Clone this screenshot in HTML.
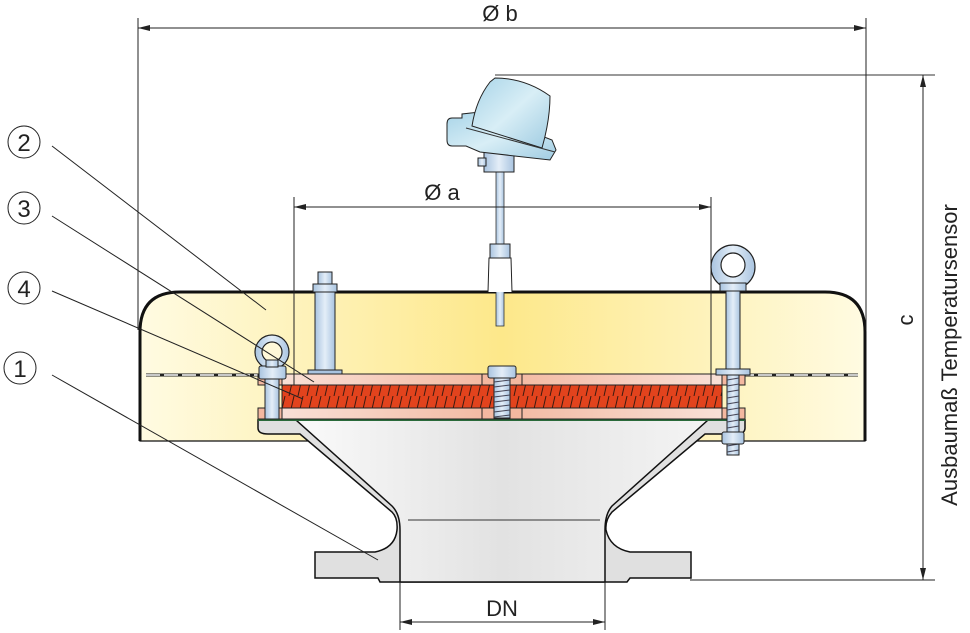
<!DOCTYPE html>
<html><head><meta charset="utf-8"><style>
html,body{margin:0;padding:0;background:#fff;}
svg{display:block;font-family:"Liberation Sans",Arial,sans-serif;}
</style></head><body>
<svg width="970" height="633" viewBox="0 0 970 633" xmlns="http://www.w3.org/2000/svg">
<defs>
<linearGradient id="hood" x1="0" x2="1" y1="0" y2="0">
<stop offset="0" stop-color="#fffbe2"/><stop offset="0.5" stop-color="#fde88a"/><stop offset="1" stop-color="#fffbe2"/>
</linearGradient>
<linearGradient id="cone" x1="0" x2="1">
<stop offset="0" stop-color="#fafafa"/><stop offset="0.5" stop-color="#e2e2e2"/><stop offset="1" stop-color="#f4f4f4"/>
</linearGradient>
<linearGradient id="plate" x1="0" x2="1">
<stop offset="0" stop-color="#f9e4dc"/><stop offset="0.5" stop-color="#f3b8a0"/><stop offset="1" stop-color="#f9e4dc"/>
</linearGradient>
<linearGradient id="steel" x1="0" x2="1">
<stop offset="0" stop-color="#a9c4e0"/><stop offset="0.5" stop-color="#e4eef8"/><stop offset="1" stop-color="#a9c4e0"/>
</linearGradient>
<linearGradient id="head" x1="0" x2="1" y1="0" y2="1">
<stop offset="0" stop-color="#a8d4e8"/><stop offset="0.5" stop-color="#d8eef6"/><stop offset="1" stop-color="#a0cce2"/>
</linearGradient>
<pattern id="hatch" width="9" height="22" patternUnits="userSpaceOnUse">
<rect width="9" height="22" fill="#e2431d"/>
<line x1="1" y1="22" x2="6" y2="0" stroke="#3a1a10" stroke-width="1"/>
</pattern>
</defs>

<!-- hood -->
<path d="M140,441 L140,332 Q140,292 180,292 L825,292 Q865,292 865,332 L865,441 Z" fill="url(#hood)" stroke="#111" stroke-width="1.2"/>
<path d="M140,441 L140,332 Q140,292 180,292 L825,292 Q865,292 865,332 L865,441" fill="none" stroke="#111" stroke-width="3"/>
<!-- dashed -->
<line x1="146" y1="375" x2="858" y2="375" stroke="#222" stroke-width="3"/>
<line x1="146" y1="375" x2="858" y2="375" stroke="#fff" stroke-width="1.5" stroke-dasharray="14 4"/>

<!-- housing -->
<path d="M258,420 L745,420 L745,428 Q745,434 736,434 L705,434 L612,512 Q605,520 606,530 Q610,548 630,552 L691,552 L691,578 L630,578 L627,582 L380,582 L378,578 L315,578 L315,552 L375,552 Q395,548 397,530 Q398,518 392,512 L300,434 L268,434 Q258,434 258,428 Z" fill="#e0e0e0" stroke="#111" stroke-width="1.5"/>
<path d="M296,420 L708,420 L612,506 Q605,514 605,530 L605,582 L400,582 L400,530 Q400,514 392,506 Z" fill="url(#cone)" stroke="#111" stroke-width="1.5"/>
<line x1="408" y1="520" x2="600" y2="520" stroke="#333" stroke-width="1"/>
<line x1="258" y1="420" x2="745" y2="420" stroke="#2a6a3a" stroke-width="2"/>

<!-- plates -->
<rect x="258" y="374" width="487" height="11" fill="url(#plate)" stroke="#222" stroke-width="1"/>
<rect x="282" y="385" width="440" height="23" fill="url(#hatch)" stroke="#222" stroke-width="1"/>
<rect x="258" y="408" width="487" height="11" fill="url(#plate)" stroke="#222" stroke-width="1"/>
<rect x="482" y="374" width="40" height="11" fill="#f3b8a0" stroke="#222"/>
<rect x="482" y="408" width="40" height="11" fill="#f3b8a0" stroke="#222"/>
<rect x="258" y="374" width="24" height="11" fill="#f3b8a0" stroke="#222"/>
<rect x="258" y="408" width="24" height="11" fill="#f3b8a0" stroke="#222"/>
<rect x="722" y="374" width="23" height="11" fill="#f3b8a0" stroke="#222"/>
<rect x="722" y="408" width="23" height="11" fill="#f3b8a0" stroke="#222"/>

<!-- center bolt -->
<rect x="488" y="366" width="28" height="12" rx="2" fill="url(#steel)" stroke="#222"/>
<rect x="494" y="378" width="16" height="40" fill="url(#steel)" stroke="#222"/>
<g stroke="#445" stroke-width="1"><line x1="494" y1="382" x2="510" y2="380"/><line x1="494" y1="387" x2="510" y2="385"/><line x1="494" y1="392" x2="510" y2="390"/><line x1="494" y1="397" x2="510" y2="395"/><line x1="494" y1="402" x2="510" y2="400"/><line x1="494" y1="407" x2="510" y2="405"/><line x1="494" y1="412" x2="510" y2="410"/><line x1="494" y1="417" x2="510" y2="415"/></g>

<!-- stud -->
<rect x="308" y="370" width="34" height="4" fill="#a9c4e0" stroke="#222"/>
<rect x="315" y="286" width="20" height="84" fill="url(#steel)" stroke="#222"/>
<rect x="313" y="284" width="24" height="8" fill="url(#steel)" stroke="#222"/>
<rect x="318" y="272" width="14" height="12" fill="url(#steel)" stroke="#222"/>

<!-- left eye bolt -->
<circle cx="272" cy="352" r="17" fill="url(#steel)" stroke="#222" stroke-width="1.2"/>
<circle cx="272" cy="352" r="10" fill="#fff8d8" stroke="#222" stroke-width="1.2"/>
<rect x="259" y="366" width="27" height="13" rx="2" fill="url(#steel)" stroke="#222"/>
<rect x="265" y="379" width="14" height="40" fill="url(#steel)" stroke="#222"/>
<rect x="266" y="360" width="12" height="7" fill="url(#steel)" stroke="#222"/>

<!-- right eye bolt -->
<circle cx="733" cy="267" r="22" fill="url(#steel)" stroke="#222" stroke-width="1.2"/>
<circle cx="733" cy="265" r="12" fill="#fff" stroke="#222" stroke-width="1.2"/>
<rect x="720" y="283" width="26" height="8" fill="url(#steel)" stroke="#222"/>
<rect x="726" y="291" width="14" height="80" fill="url(#steel)" stroke="#222"/>
<rect x="716" y="369" width="34" height="6" fill="url(#steel)" stroke="#222"/>
<rect x="727" y="375" width="12" height="80" fill="url(#steel)" stroke="#222"/>
<g stroke="#445"><line x1="727" y1="380" x2="739" y2="378"/><line x1="727" y1="386" x2="739" y2="384"/><line x1="727" y1="392" x2="739" y2="390"/><line x1="727" y1="398" x2="739" y2="396"/><line x1="727" y1="404" x2="739" y2="402"/><line x1="727" y1="410" x2="739" y2="408"/><line x1="727" y1="416" x2="739" y2="414"/><line x1="727" y1="422" x2="739" y2="420"/><line x1="727" y1="428" x2="739" y2="426"/><line x1="727" y1="446" x2="739" y2="444"/><line x1="727" y1="452" x2="739" y2="450"/></g>
<rect x="722" y="432" width="22" height="12" rx="2" fill="url(#steel)" stroke="#222"/>

<!-- sensor -->
<rect x="496" y="170" width="8" height="156" fill="url(#steel)" stroke="#333" stroke-width="0.8"/>
<path d="M488,292 L489,258 L511,258 L512,292" fill="#fff" stroke="#222"/>
<rect x="490" y="244" width="20" height="14" fill="url(#steel)" stroke="#222"/>
<rect x="484" y="152" width="30" height="20" fill="url(#steel)" stroke="#222"/>
<rect x="478" y="158" width="8" height="8" fill="url(#steel)" stroke="#222"/>
<path d="M447,124 Q447,118 452,118 L462,118 L462,114 L480,112 L552,140 L556,150 L550,160 L480,152 L466,146 L452,146 Q447,146 447,140 Z" fill="url(#head)" stroke="#222"/>
<path d="M495,78 Q525,78 550,96 Q550,120 542,148 L472,126 Q476,100 490,82 Z" fill="url(#head)" stroke="#222"/>
<path d="M466,128 L555,152" stroke="#333" fill="none"/>
<line x1="495" y1="75" x2="935" y2="75" stroke="#333" stroke-width="1"/>

<!-- dimension lines -->
<g stroke="#222" stroke-width="1" fill="none">
<line x1="138" y1="18" x2="138" y2="330"/>
<line x1="866" y1="18" x2="866" y2="330"/>
<line x1="138" y1="28" x2="866" y2="28"/>
<line x1="294" y1="197" x2="294" y2="385"/>
<line x1="711" y1="197" x2="711" y2="385"/>
<line x1="294" y1="207" x2="711" y2="207"/>
<line x1="923" y1="75" x2="923" y2="580"/>
<line x1="690" y1="580" x2="935" y2="580"/>
<line x1="400" y1="582" x2="400" y2="630"/>
<line x1="605" y1="582" x2="605" y2="630"/>
<line x1="400" y1="622" x2="605" y2="622"/>
</g>
<g fill="#222">
<path d="M138,28 l12,-3 v6z"/><path d="M866,28 l-12,-3 v6z"/>
<path d="M294,207 l12,-3 v6z"/><path d="M711,207 l-12,-3 v6z"/>
<path d="M923,75 l-3,12 h6z"/><path d="M923,580 l-3,-12 h6z"/>
<path d="M400,622 l12,-3 v6z"/><path d="M605,622 l-12,-3 v6z"/>
</g>
<text x="500" y="21" font-size="22" text-anchor="middle" fill="#222">Ø b</text>
<text x="442" y="200" font-size="22" text-anchor="middle" fill="#222">Ø a</text>
<text x="502" y="616" font-size="22" text-anchor="middle" fill="#222">DN</text>
<text transform="translate(913,320) rotate(-90)" font-size="22" text-anchor="middle" fill="#222">c</text>
<text transform="translate(957,355) rotate(-90)" font-size="22" text-anchor="middle" fill="#222">Ausbaumaß Temperatursensor</text>

<!-- callouts -->
<g stroke="#222" stroke-width="1" fill="#fff">
<circle cx="24" cy="142" r="16"/><circle cx="24" cy="208" r="16"/><circle cx="24" cy="288" r="16"/><circle cx="20" cy="368" r="16"/>
<line x1="52" y1="146" x2="266" y2="310"/>
<line x1="52" y1="216" x2="314" y2="382"/>
<line x1="52" y1="291" x2="303" y2="399"/>
<line x1="52" y1="375" x2="378" y2="560"/>
</g>
<g font-size="24" text-anchor="middle" fill="#222">
<text x="24" y="151">2</text><text x="24" y="217">3</text><text x="24" y="297">4</text><text x="20" y="377">1</text>
</g>
</svg>
</body></html>
